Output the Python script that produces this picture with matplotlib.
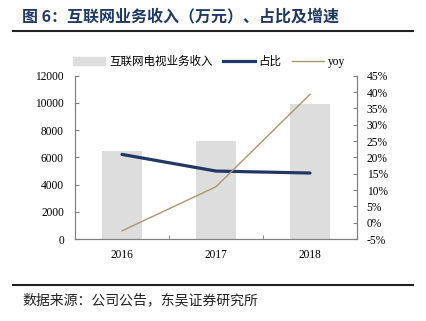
import numpy as np
import matplotlib
matplotlib.use('Agg')
import matplotlib.pyplot as plt
from matplotlib.lines import Line2D

plt.rcParams['font.family'] = ['Liberation Serif', 'Noto Sans CJK SC']

years = ['2016', '2017', '2018']
revenue = [6480, 7180, 9940]          # 互联网电视业务收入 (万元)
share = [0.209, 0.158, 0.152]         # 占比
yoy = [-0.025, 0.110, 0.393]          # yoy

navy = '#1F3864'
olive = '#A39A6B'
bar_c = '#DDDDDD'
spine_c = '#808080'

fig = plt.figure(figsize=(4.26, 3.21), dpi=100)
ax = fig.add_axes([75/426, 1-239/321, (357-75)/426, (239-75.7)/321])
ax2 = ax.twinx()

x = np.arange(len(years))
ax.bar(x, revenue, width=0.43, color=bar_c, label='互联网电视业务收入', zorder=1)
ax2.plot(x, share, color=navy, lw=2.3, label='占比', solid_capstyle='round')
ax2.plot(x, yoy, color=olive, lw=1.0, label='yoy')

ax.set_xlim(-0.5, 2.5)
ax.set_ylim(0, 12000)
ax.set_yticks(np.arange(0, 12001, 2000))
ax2.set_ylim(-0.05, 0.45)
ax2.set_yticks(np.arange(-0.05, 0.451, 0.05))
ax2.set_yticklabels([f'{v:.0f}%' for v in np.arange(-5, 46, 5)])

ax.set_xticks(x)
ax.set_xticklabels(years)
ax.set_xticks([0.5, 1.5], minor=True)
ax.tick_params(axis='x', which='major', length=0, labelsize=8.3, pad=7)
ax.tick_params(axis='x', which='minor', direction='in', length=3, color=spine_c)
ax.tick_params(axis='y', direction='in', length=3, color=spine_c, labelsize=8.3, pad=8)
ax2.tick_params(axis='y', direction='in', length=3, color=spine_c, labelsize=8.3, pad=7)

for a in (ax, ax2):
    a.spines['top'].set_visible(False)
    for s in ('left', 'right', 'bottom'):
        a.spines[s].set_color(spine_c)
        a.spines[s].set_linewidth(0.8)

handles = [plt.Rectangle((0, 0), 1, 1, color=bar_c),
           Line2D([], [], color=navy, lw=2.3),
           Line2D([], [], color=olive, lw=1.0)]
fig.legend(handles, ['互联网电视业务收入', '占比', 'yoy'], loc='center',
           bbox_to_anchor=(209/426, 1-62/321), ncol=3, frameon=False,
           fontsize=8.3, handlelength=2.8, handleheight=0.6, columnspacing=0.9,
           handletextpad=0.3)

fig.text(22/426, 1-16/321, '图 6：互联网业务收入（万元）、占比及增速', fontsize=11.5,
         fontweight='bold', color=navy, va='center', ha='left',
         family=['Noto Sans CJK SC'])
fig.add_artist(Line2D([13/426, 413/426], [1-31/321, 1-31/321], color='#222222', lw=1.5))
fig.add_artist(Line2D([13/426, 413/426], [1-285/321, 1-285/321], color='#222222', lw=1.5))
fig.text(22/426, 1-300/321, '数据来源：公司公告，东吴证券研究所', fontsize=10,
         color='#222222', va='center', ha='left', family=['Noto Sans CJK SC'])

fig.savefig('out.png', dpi=100)
